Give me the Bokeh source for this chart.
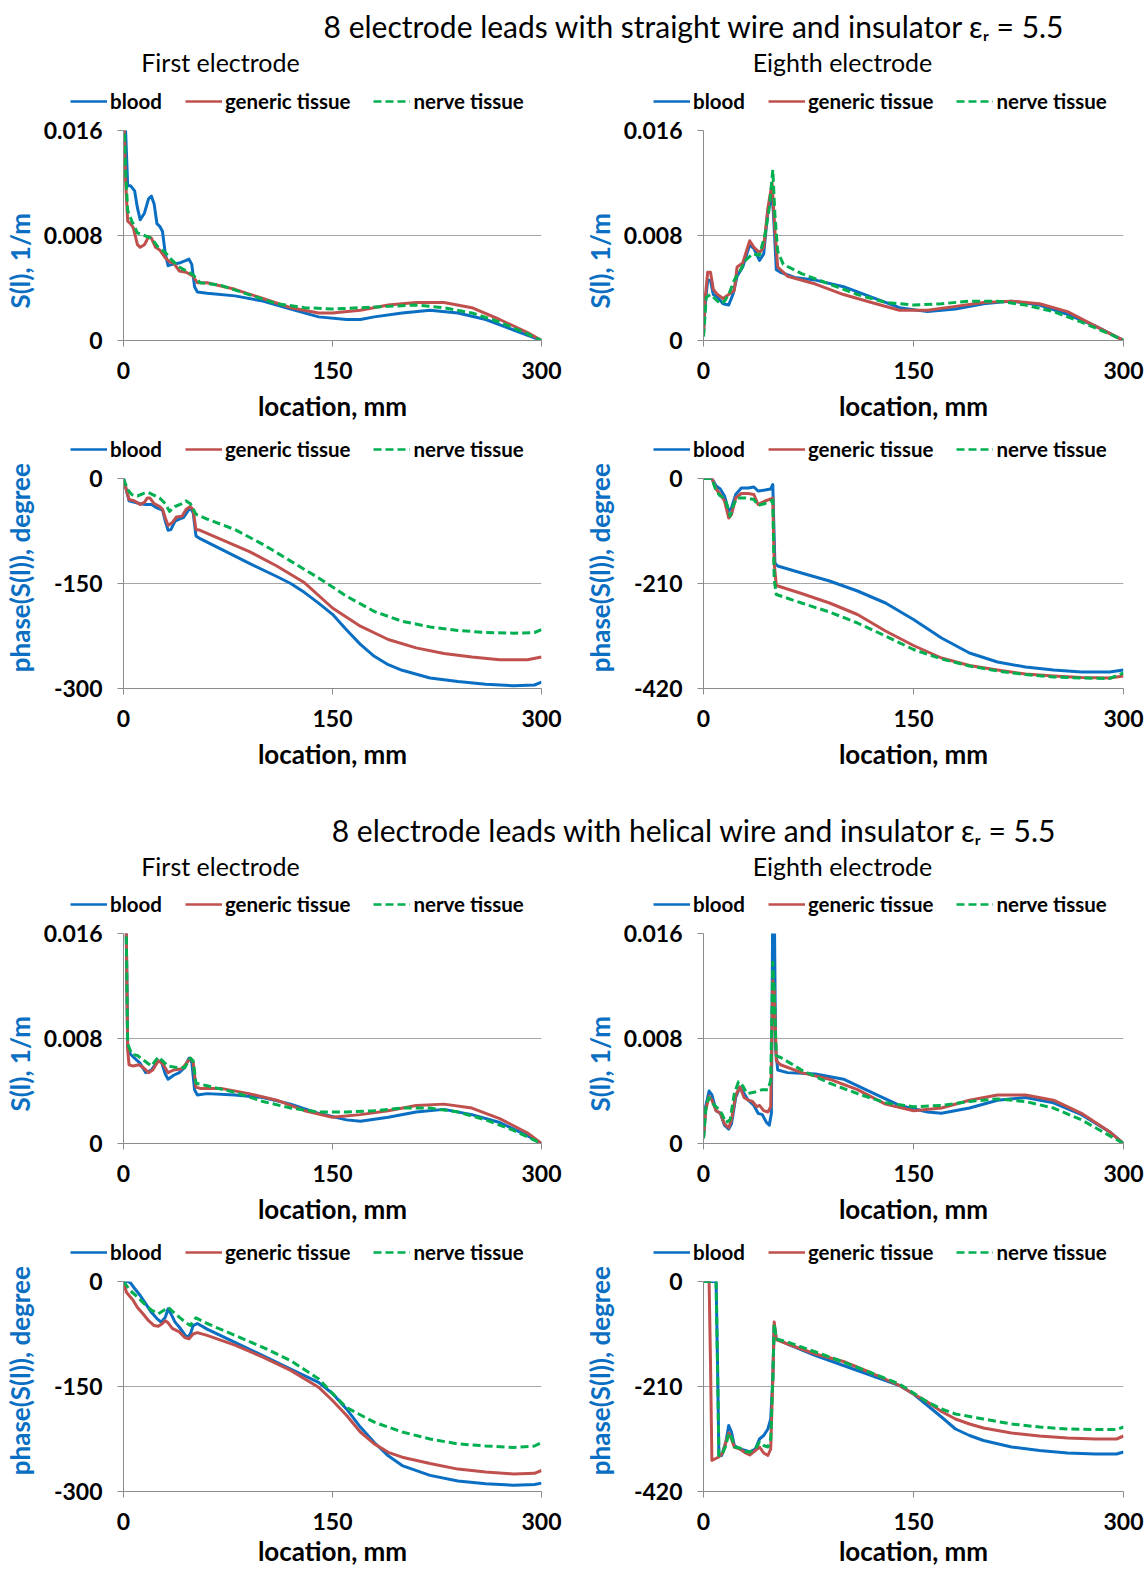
from bokeh.plotting import figure
from bokeh.layouts import column, row
from bokeh.models import Range1d, FixedTicker, Legend, LegendItem, Label
from bokeh.embed import file_html
from bokeh.resources import INLINE

# ---------------- data ----------------
series_names = ["blood", "generic tissue", "nerve tissue"]
x_ticks = [0, 150, 300]
s_ticks = [0, 0.008, 0.016]
s_tick_labels = ["0", "0.008", "0.016"]
phase_first_ticks = [-300, -150, 0]
phase_first_tick_labels = ["-300", "-150", "0"]
phase_eighth_ticks = [-420, -210, 0]
phase_eighth_tick_labels = ["-420", "-210", "0"]

# straight wire, first electrode, S(l)
sf_x_blood = [0, 1.5, 3, 5, 8, 10, 12, 15, 18, 20, 22, 24, 26, 28, 30, 32, 35, 40, 45, 47, 49, 51, 53, 60, 80, 100, 120, 140, 160, 170, 180, 200, 220, 240, 260, 280, 300]
sf_blood = [0.0185, 0.016, 0.0118, 0.0118, 0.0114, 0.0101, 0.0092, 0.0097, 0.0108, 0.0110, 0.0104, 0.0089, 0.0087, 0.0083, 0.0066, 0.0057, 0.0058, 0.0059, 0.0061, 0.0062, 0.0058, 0.0041, 0.0037, 0.0036, 0.0034, 0.0030, 0.0024, 0.0018, 0.0016, 0.0016, 0.0018, 0.0021, 0.0023, 0.0021, 0.0016, 0.0008, 0.0]
sf_x_generic = [0, 1.5, 3, 5, 7, 10, 12, 15, 18, 20, 23, 26, 30, 33, 36, 40, 45, 50, 53, 60, 80, 100, 120, 140, 150, 170, 190, 210, 230, 250, 270, 290, 300]
sf_generic = [0.0185, 0.0122, 0.0091, 0.0089, 0.0086, 0.0073, 0.0071, 0.0073, 0.0079, 0.0078, 0.0071, 0.0069, 0.0063, 0.0060, 0.0059, 0.0053, 0.0052, 0.0049, 0.0044, 0.0044, 0.0039, 0.0032, 0.0025, 0.0021, 0.0021, 0.0023, 0.0027, 0.0029, 0.0029, 0.0025, 0.0016, 0.0006, 0.0]
sf_x_nerve = [0, 1.5, 3, 6, 10, 15, 20, 25, 30, 35, 40, 45, 50, 55, 70, 90, 110, 130, 150, 170, 190, 210, 230, 250, 270, 290, 300]
sf_nerve = [0.0185, 0.013, 0.0099, 0.0091, 0.0082, 0.0080, 0.0078, 0.0071, 0.0067, 0.0061, 0.0056, 0.0053, 0.0050, 0.0044, 0.0042, 0.0035, 0.0028, 0.0025, 0.0024, 0.0025, 0.0026, 0.0027, 0.0025, 0.0021, 0.0014, 0.0005, 0.0]

# straight wire, eighth electrode, S(l)
se_x_blood = [0, 1, 3, 5, 7, 10, 14, 18, 21, 24, 28, 33, 36, 40, 43, 46, 49, 50, 52, 55, 65, 80, 100, 120, 140, 160, 180, 200, 220, 240, 260, 280, 300]
se_blood = [0.0005, 0.0025, 0.0046, 0.0046, 0.0035, 0.0033, 0.0028, 0.0027, 0.0035, 0.0049, 0.0056, 0.0073, 0.0070, 0.0061, 0.0066, 0.0099, 0.0110, 0.0096, 0.0054, 0.0052, 0.0048, 0.0046, 0.0041, 0.0033, 0.0025, 0.0022, 0.0024, 0.0028, 0.0030, 0.0027, 0.0020, 0.0011, 0.0]
se_x_generic = [0, 1, 3, 5, 7, 10, 14, 18, 22, 24, 28, 33, 36, 40, 43, 46, 49, 51, 53, 60, 80, 100, 120, 140, 160, 180, 200, 220, 240, 260, 280, 300]
se_generic = [0.0005, 0.0030, 0.0052, 0.0052, 0.0039, 0.0035, 0.0032, 0.0035, 0.0038, 0.0056, 0.0059, 0.0076, 0.0071, 0.0067, 0.0071, 0.0101, 0.0120, 0.0084, 0.0056, 0.0049, 0.0043, 0.0035, 0.0029, 0.0023, 0.0023, 0.0026, 0.0029, 0.0030, 0.0028, 0.0022, 0.0011, 0.0]
se_x_nerve = [0, 2, 5, 8, 12, 15, 18, 22, 26, 30, 35, 40, 44, 47, 49.5, 51, 53, 57, 70, 90, 110, 130, 150, 170, 190, 210, 230, 250, 270, 290, 300]
se_nerve = [0.0003, 0.0033, 0.0035, 0.0032, 0.0028, 0.0030, 0.0035, 0.0046, 0.0053, 0.0061, 0.0066, 0.0065, 0.0081, 0.0101, 0.0130, 0.0096, 0.0068, 0.0058, 0.0051, 0.0043, 0.0035, 0.0029, 0.0027, 0.0028, 0.0030, 0.0030, 0.0027, 0.0022, 0.0014, 0.0005, 0.0]

# straight wire, first electrode, phase
pf_x_blood = [0, 2, 4, 8, 12, 16, 20, 24, 28, 30, 32, 34, 37, 40, 43, 46, 48, 50, 52, 55, 70, 90, 110, 120, 130, 140, 150, 160, 170, 180, 190, 200, 220, 240, 260, 280, 295, 300]
pf_blood = [0, -16, -32, -34, -36, -37, -37, -42, -45, -61, -74, -73, -61, -58, -56, -47, -42, -49, -82, -86, -101, -121, -140, -150, -163, -178, -194, -216, -237, -254, -266, -274, -285, -290, -294, -296, -295, -291]
pf_x_generic = [0, 2, 4, 8, 12, 15, 17, 19, 22, 26, 28, 30, 32, 35, 38, 42, 45, 48, 50, 52, 55, 70, 90, 110, 130, 150, 170, 190, 210, 230, 250, 270, 290, 300]
pf_generic = [0, -16, -30, -32, -37, -34, -28, -28, -36, -40, -44, -56, -67, -63, -55, -54, -44, -40, -45, -73, -74, -87, -104, -125, -149, -185, -211, -230, -242, -250, -255, -259, -259, -255]
pf_x_nerve = [0, 3, 6, 10, 15, 18, 22, 26, 30, 33, 37, 42, 45, 48, 52, 60, 80, 100, 120, 140, 160, 180, 200, 220, 240, 260, 280, 295, 300]
pf_nerve = [0, -16, -23, -25, -21, -20, -24, -28, -36, -47, -40, -36, -32, -36, -51, -58, -73, -94, -118, -142, -168, -190, -204, -212, -217, -220, -221, -220, -216]

# straight wire, eighth electrode, phase
pe_x_blood = [0, 6, 9, 12, 15, 18, 20, 23, 27, 32, 36, 39, 44, 48, 49.5, 50, 51, 53, 70, 90, 110, 130, 150, 170, 190, 210, 230, 250, 270, 290, 300]
pe_blood = [0, 0, -15, -21, -35, -65, -59, -32, -19, -19, -17, -25, -23, -21, -12, -69, -169, -175, -189, -205, -225, -249, -282, -319, -349, -367, -377, -383, -387, -387, -383]
pe_x_generic = [0, 6, 9, 12, 15, 18, 20, 23, 27, 32, 36, 39, 44, 48, 49.5, 50.5, 52, 70, 90, 110, 130, 150, 170, 190, 210, 230, 250, 270, 290, 300]
pe_generic = [0, 0, -21, -32, -45, -79, -72, -39, -30, -30, -32, -52, -45, -41, -39, -169, -214, -230, -249, -272, -305, -334, -359, -374, -383, -391, -395, -398, -399, -395]
pe_x_nerve = [0, 6, 9, 12, 15, 17, 19, 21, 24, 30, 36, 39, 44, 49.5, 50.5, 52, 70, 90, 110, 130, 150, 170, 190, 210, 230, 250, 270, 290, 300]
pe_nerve = [0, 0, -25, -35, -39, -55, -75, -55, -39, -39, -42, -54, -50, -43, -202, -232, -249, -267, -289, -315, -342, -361, -375, -385, -392, -397, -399, -400, -389]

# helical wire, first electrode, S(l)
hsf_x_blood = [0, 2, 3, 5, 8, 12, 16, 20, 24, 27, 30, 32, 36, 40, 44, 47, 49, 51, 53, 60, 80, 100, 120, 140, 160, 170, 190, 210, 230, 250, 270, 290, 300]
hsf_blood = [0.0185, 0.016, 0.0073, 0.0068, 0.0065, 0.0061, 0.0054, 0.0056, 0.0062, 0.0063, 0.0053, 0.0049, 0.0052, 0.0054, 0.0058, 0.0065, 0.0062, 0.0041, 0.0037, 0.0038, 0.0037, 0.0035, 0.0030, 0.0023, 0.0018, 0.0017, 0.0020, 0.0024, 0.0026, 0.0022, 0.0016, 0.0006, 0.0]
hsf_x_generic = [0, 2, 3, 4, 7, 11, 14, 18, 21, 25, 28, 32, 36, 42, 45, 48, 50, 52, 55, 70, 90, 110, 130, 150, 170, 190, 210, 230, 250, 270, 290, 300]
hsf_generic = [0.0185, 0.016, 0.0071, 0.0060, 0.0059, 0.0060, 0.0058, 0.0054, 0.0056, 0.0063, 0.0061, 0.0054, 0.0056, 0.0057, 0.0061, 0.0065, 0.0062, 0.0043, 0.0042, 0.0042, 0.0038, 0.0033, 0.0025, 0.0020, 0.0022, 0.0025, 0.0029, 0.0030, 0.0027, 0.0019, 0.0008, 0.0]
hsf_x_nerve = [0, 2, 3, 6, 10, 15, 20, 25, 28, 32, 38, 44, 48, 50, 52, 60, 80, 100, 120, 140, 160, 180, 200, 220, 240, 260, 280, 300]
hsf_nerve = [0.0185, 0.016, 0.0076, 0.0068, 0.0067, 0.0063, 0.0059, 0.0066, 0.0063, 0.0059, 0.0058, 0.0058, 0.0065, 0.0063, 0.0046, 0.0044, 0.0039, 0.0032, 0.0027, 0.0024, 0.0024, 0.0025, 0.0027, 0.0027, 0.0024, 0.0018, 0.0010, 0.0]

# helical wire, eighth electrode, S(l)
hse_x_blood = [0, 1.5, 4, 6, 9, 12, 15, 18, 20, 23, 26, 29, 32, 36, 39, 42, 45, 47, 48.5, 49.5, 50.5, 51.5, 53, 60, 80, 100, 120, 140, 160, 170, 190, 210, 230, 250, 270, 290, 300]
hse_blood = [0.0004, 0.0028, 0.0040, 0.0037, 0.0025, 0.0023, 0.0014, 0.0011, 0.0015, 0.0035, 0.0043, 0.0038, 0.0033, 0.0029, 0.0023, 0.0022, 0.0016, 0.0014, 0.0023, 0.019, 0.019, 0.0073, 0.0056, 0.0054, 0.0053, 0.0049, 0.0039, 0.0029, 0.0024, 0.0023, 0.0027, 0.0033, 0.0035, 0.0031, 0.0022, 0.0009, 0.0]
hse_x_generic = [0, 1.5, 4, 6, 9, 12, 15, 18, 20, 23, 26, 29, 32, 35, 38, 40, 43, 46, 48, 49.5, 50.5, 52, 55, 70, 90, 110, 130, 150, 170, 190, 210, 230, 250, 270, 290, 300]
hse_generic = [0.0004, 0.0025, 0.0036, 0.0033, 0.0025, 0.0023, 0.0015, 0.0012, 0.0018, 0.0037, 0.0043, 0.0035, 0.0033, 0.0032, 0.0028, 0.0029, 0.0025, 0.0024, 0.0028, 0.0124, 0.0116, 0.0063, 0.0060, 0.0054, 0.0049, 0.0041, 0.0030, 0.0025, 0.0027, 0.0033, 0.0037, 0.0037, 0.0033, 0.0023, 0.0009, 0.0]
hse_x_nerve = [0, 2, 4, 7, 10, 13, 16, 19, 22, 25, 28, 31, 36, 42, 46, 48, 49.5, 50.5, 52, 56, 70, 90, 110, 130, 150, 170, 190, 210, 230, 250, 270, 290, 300]
hse_nerve = [0.0004, 0.0030, 0.0035, 0.0030, 0.0027, 0.0023, 0.0016, 0.0018, 0.0038, 0.0047, 0.0044, 0.0038, 0.0039, 0.0041, 0.0041, 0.0048, 0.0138, 0.0116, 0.0067, 0.0065, 0.0056, 0.0046, 0.0038, 0.0031, 0.0028, 0.0029, 0.0032, 0.0034, 0.0032, 0.0027, 0.0018, 0.0006, 0.0]

# helical wire, first electrode, phase
hpf_x_blood = [0, 3, 5, 8, 12, 16, 20, 24, 27, 30, 32, 34, 37, 40, 44, 46, 48, 50, 53, 60, 80, 100, 120, 140, 150, 160, 170, 180, 190, 200, 220, 240, 260, 280, 295, 300]
hpf_blood = [0, 0, -2, -10, -20, -32, -44, -53, -58, -51, -39, -46, -58, -65, -76, -80, -75, -63, -60, -68, -87, -106, -125, -144, -160, -182, -208, -230, -249, -263, -277, -285, -289, -291, -290, -288]
hpf_x_generic = [0, 2, 4, 7, 10, 14, 18, 22, 25, 28, 30, 32, 35, 40, 44, 47, 50, 53, 60, 80, 100, 120, 140, 150, 160, 170, 180, 190, 200, 220, 240, 260, 280, 295, 300]
hpf_generic = [0, -15, -20, -27, -37, -46, -56, -63, -64, -60, -56, -59, -67, -72, -80, -82, -75, -73, -77, -91, -108, -127, -151, -170, -191, -215, -232, -244, -251, -260, -268, -272, -275, -274, -270]
hpf_x_nerve = [0, 3, 6, 10, 15, 20, 25, 29, 32, 36, 40, 45, 48, 50, 52, 60, 80, 100, 120, 140, 150, 160, 180, 200, 220, 240, 260, 280, 295, 300]
hpf_nerve = [0, -8, -15, -22, -32, -41, -46, -41, -37, -44, -51, -59, -63, -56, -52, -60, -77, -94, -113, -139, -160, -180, -201, -215, -225, -232, -235, -237, -235, -230]

# helical wire, eighth electrode, phase
hpe_x_blood = [0, 9, 10, 11, 13, 16, 18, 20, 22, 26, 30, 33, 37, 40, 43, 46, 48, 49.5, 50.5, 52, 60, 80, 100, 120, 140, 150, 160, 170, 180, 190, 200, 220, 240, 260, 280, 295, 300]
hpe_blood = [0, 0, -161, -348, -348, -321, -288, -301, -328, -335, -338, -341, -335, -315, -308, -295, -275, -195, -88, -115, -125, -148, -168, -188, -208, -225, -248, -271, -295, -308, -318, -331, -338, -343, -345, -345, -341]
hpe_x_generic = [0, 4, 5, 6, 8, 11, 14, 16, 18, 20, 22, 26, 30, 33, 37, 40, 43, 46, 48, 49.5, 50.5, 52, 60, 80, 100, 120, 140, 150, 160, 170, 180, 190, 200, 220, 240, 260, 280, 295, 300]
hpe_generic = [0, 0, -161, -358, -355, -351, -341, -321, -303, -315, -331, -335, -343, -347, -338, -331, -343, -348, -335, -195, -81, -116, -125, -145, -160, -183, -208, -225, -241, -260, -275, -285, -293, -303, -309, -313, -315, -315, -309]
hpe_x_nerve = [0, 9, 10, 11, 13, 16, 18, 20, 22, 26, 30, 33, 37, 40, 43, 46, 48, 49.5, 50.5, 52, 60, 80, 100, 120, 140, 150, 160, 170, 180, 200, 220, 240, 260, 280, 295, 300]
hpe_nerve = [0, 0, -161, -348, -348, -328, -303, -311, -331, -333, -340, -341, -335, -321, -328, -331, -315, -195, -85, -115, -121, -141, -161, -183, -205, -223, -241, -255, -265, -275, -285, -291, -295, -296, -296, -291]

# ---------------- styling ----------------
FONT = "Lato"
BLUE = "#0A6FC2"
RED = "#C0504D"
GREEN = "#00B050"
GRID = "#A6A6A6"
AXIS = "#8C8C8C"
COLORS = [BLUE, RED, GREEN]
DASHES = ["solid", "solid", "8 4"]
LW = 3
NB = "\u00a0"


def make_legend_strip(side, xs, ys):
    """Thin strip above a chart holding its series key (the same series, kept out of view)."""
    w = 572 if side == "L" else 573
    f = figure(width=w, height=35, x_range=Range1d(-20, -10), y_range=Range1d(-20, -10),
               output_backend="svg", toolbar_location=None, min_border=0,
               x_axis_location=None, y_axis_location=None)
    f.outline_line_color = None
    f.grid.visible = False
    rends = [f.line(x, y, line_color=c, line_width=2.6, line_dash=d)
             for x, y, c, d in zip(xs, ys, COLORS, DASHES)]
    leg = Legend(items=[LegendItem(label=n, renderers=[r]) for n, r in zip(series_names, rends)],
                 location=(70 if side == "L" else 81, 2), orientation="horizontal",
                 background_fill_alpha=0, border_line_color=None,
                 padding=0, margin=0, spacing=23, glyph_width=37, glyph_height=20,
                 label_standoff=3, label_text_font=FONT, label_text_font_size="20.5px",
                 label_text_font_style="bold", label_text_color="black", label_height=20)
    f.add_layout(leg)
    return f


def make_panel(side, kind, xs, ys, height, bottom, xlab_standoff=8):
    w = 572 if side == "L" else 573
    bl = 121 if side == "L" else 131
    br = w - bl - 420
    if kind == "S":
        yr, ticks, labels, lstand = (0, 0.016), s_ticks, s_tick_labels, 5
        ylab = "S(l), 1/m" + NB * 8
    elif kind == "P1":
        yr, ticks, labels, lstand = (-300, 0), phase_first_ticks, phase_first_tick_labels, 15
        ylab = NB * 5 + "phase(S(l)), degree"
    else:
        yr, ticks, labels, lstand = (-420, 0), phase_eighth_ticks, phase_eighth_tick_labels, 15
        ylab = NB * 5 + "phase(S(l)), degree"

    p = figure(width=w, height=height, output_backend="svg", toolbar_location=None,
               x_range=Range1d(0, 300), y_range=Range1d(*yr),
               min_border_left=bl, min_border_right=br,
               min_border_top=15, min_border_bottom=bottom)
    p.outline_line_color = None
    p.background_fill_color = "white"

    for x, y, c, d in zip(xs, ys, COLORS, DASHES):
        p.line(x, y, line_color=c, line_width=LW, line_dash=d, line_join="round")

    # x axis
    p.xaxis.ticker = FixedTicker(ticks=x_ticks)
    p.xaxis.axis_label = "location, mm"
    p.xaxis.axis_label_text_font = FONT
    p.xaxis.axis_label_text_font_size = "26px"
    p.xaxis.axis_label_text_font_style = "bold"
    p.xaxis.axis_label_text_color = "black"
    p.xaxis.axis_label_standoff = xlab_standoff
    p.xaxis.major_label_standoff = 15
    # y axis
    p.yaxis.ticker = FixedTicker(ticks=ticks)
    p.yaxis.major_label_overrides = {t: l for t, l in zip(ticks, labels)}
    p.yaxis.axis_label = ylab
    p.yaxis.axis_label_text_font = FONT
    p.yaxis.axis_label_text_font_size = "26px"
    p.yaxis.axis_label_text_font_style = "bold"
    p.yaxis.axis_label_text_color = BLUE
    p.yaxis.axis_label_standoff = lstand
    p.yaxis.major_label_standoff = 15
    for ax in (p.xaxis, p.yaxis):
        ax.major_label_text_font = FONT
        ax.major_label_text_font_size = "23px"
        ax.major_label_text_font_style = "bold"
        ax.major_label_text_color = "black"
        ax.axis_line_color = AXIS
        ax.major_tick_line_color = AXIS
        ax.major_tick_out = 6
        ax.major_tick_in = 0
        ax.minor_tick_line_color = None
    p.xgrid.visible = False
    p.ygrid.ticker = FixedTicker(ticks=ticks)
    p.ygrid.grid_line_color = GRID
    return p


def make_header(height, title, title_y, sub_y):
    h = figure(width=1145, height=height, x_range=Range1d(0, 1145), y_range=Range1d(0, height),
               output_backend="svg", toolbar_location=None, min_border=0,
               x_axis_location=None, y_axis_location=None)
    h.outline_line_color = None
    h.grid.visible = False
    h.add_layout(Label(x=694, y=height - title_y, text=title, text_align="center",
                       text_baseline="middle", text_font=FONT, text_font_size="30px", text_color="black"))
    h.add_layout(Label(x=220, y=height - sub_y, text="First electrode", text_align="center",
                       text_baseline="middle", text_font=FONT, text_font_size="25px", text_color="black"))
    h.add_layout(Label(x=842, y=height - sub_y, text="Eighth electrode", text_align="center",
                       text_baseline="middle", text_font=FONT, text_font_size="25px", text_color="black"))
    return h


def block(side_data, kinds, height, bottom, xlab_standoff=8):
    (xl, yl), (xr, yr) = side_data
    strips = row(make_legend_strip("L", xl, yl), make_legend_strip("R", xr, yr))
    panels = row(make_panel("L", kinds[0], xl, yl, height, bottom, xlab_standoff),
                 make_panel("R", kinds[1], xr, yr, height, bottom, xlab_standoff))
    return column(strips, panels, spacing=0)


h1 = make_header(80, "8 electrode leads with straight wire and insulator \u03b5\u1d63 = 5.5", 25, 61)
b1 = block((([sf_x_blood, sf_x_generic, sf_x_nerve], [sf_blood, sf_generic, sf_nerve]),
            ([se_x_blood, se_x_generic, se_x_nerve], [se_blood, se_generic, se_nerve])), ("S", "S"), 313, 88)
b2 = block((([pf_x_blood, pf_x_generic, pf_x_nerve], [pf_blood, pf_generic, pf_nerve]),
            ([pe_x_blood, pe_x_generic, pe_x_nerve], [pe_blood, pe_generic, pe_nerve])), ("P1", "P8"), 320, 95)
h2 = make_header(100, "8 electrode leads with helical wire and insulator \u03b5\u1d63 = 5.5", 46, 82)
b3 = block((([hsf_x_blood, hsf_x_generic, hsf_x_nerve], [hsf_blood, hsf_generic, hsf_nerve]),
            ([hse_x_blood, hse_x_generic, hse_x_nerve], [hse_blood, hse_generic, hse_nerve])), ("S", "S"), 313, 88)
b4 = block((([hpf_x_blood, hpf_x_generic, hpf_x_nerve], [hpf_blood, hpf_generic, hpf_nerve]),
            ([hpe_x_blood, hpe_x_generic, hpe_x_nerve], [hpe_blood, hpe_generic, hpe_nerve])), ("P1", "P8"), 308, 83, 2)

layout = column(h1, b1, b2, h2, b3, b4, spacing=0)

open("out.html", "w").write(file_html(layout, INLINE))
